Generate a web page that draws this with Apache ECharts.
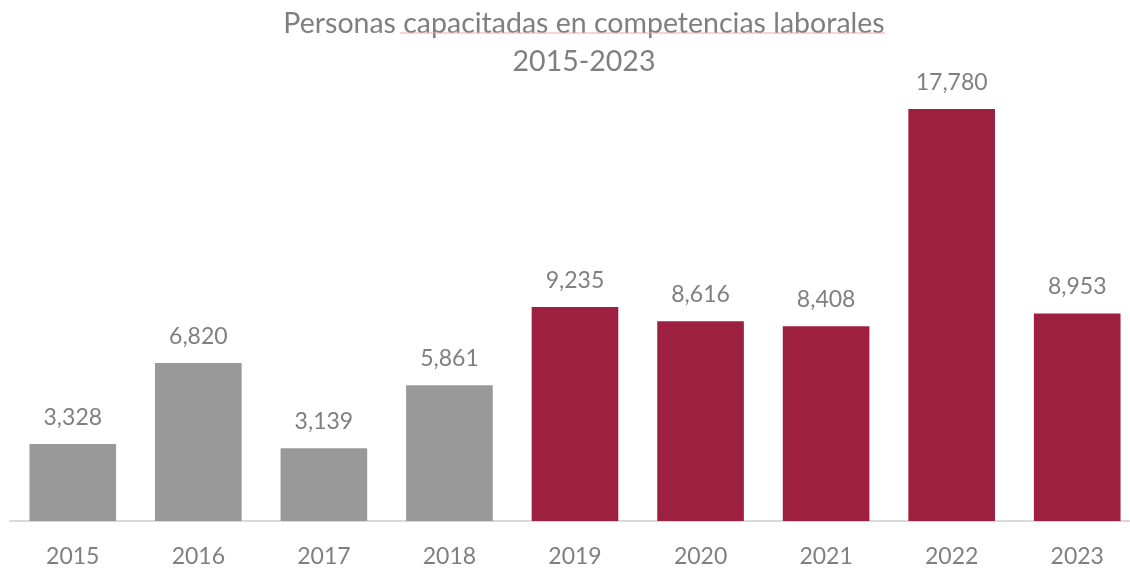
<!DOCTYPE html>
<html>
<head>
<meta charset="utf-8">
<script src="https://cdn.jsdelivr.net/npm/echarts@6/dist/echarts.min.js"></script>
<style>
  html, body { margin: 0; padding: 0; background: #fff; }
  #chart { width: 1130px; height: 569px; }
</style>
</head>
<body>
<div id="chart"></div>
<script>
// datos del grafico
var years = ['2015', '2016', '2017', '2018', '2019', '2020', '2021', '2022', '2023'];
var personas = [3328, 6820, 3139, 5861, 9235, 8616, 8408, 17780, 8953];
var barColors = ['#999999', '#999999', '#999999', '#999999', '#9e2040', '#9e2040', '#9e2040', '#9e2040', '#9e2040'];
var titleLines = ['Personas capacitadas en competencias laborales', '2015-2023'];

var fontName = 'Lato';
var textGray = '#7f7f7f';

var myChart = echarts.init(document.getElementById('chart'));

var option = {
    animation: false,
    backgroundColor: '#ffffff',
    // titulo como texto grafico (centrado un poco a la derecha, como el original)
    graphic: [{
        type: 'text',
        x: 584,
        y: 24,
        style: {
            text: titleLines[0],
            fill: textGray,
            font: '28.5px ' + fontName,
            align: 'center',
            verticalAlign: 'middle'
        }
    }, {
        type: 'text',
        x: 584,
        y: 62,
        style: {
            text: titleLines[1],
            fill: textGray,
            font: '28.5px ' + fontName,
            align: 'center',
            verticalAlign: 'middle'
        }
    }, {
        // subrayado rojo del corrector ortografico
        type: 'line',
        shape: { x1: 400, y1: 33, x2: 885, y2: 33 },
        style: { stroke: '#f3a6a6', lineWidth: 1 }
    }],
    grid: {
        left: 10,
        width: 1130,
        top: 57.6,
        bottom: 48,
        outerBoundsMode: 'none',
        containLabel: false
    },
    xAxis: {
        type: 'category',
        data: years,
        axisLine: { lineStyle: { color: '#d9d9d9', width: 2 } },
        axisTick: { show: false },
        axisLabel: {
            color: textGray,
            fontFamily: fontName,
            fontSize: 23,
            margin: 24
        }
    },
    yAxis: {
        type: 'value',
        min: 0,
        max: 20000,
        show: false,
        splitLine: { show: false }
    },
    series: [{
        type: 'bar',
        barWidth: '69%',
        data: personas.map(function (v, i) {
            return { value: v, itemStyle: { color: barColors[i] } };
        }),
        label: {
            show: true,
            position: 'top',
            distance: 15,
            color: textGray,
            fontFamily: fontName,
            fontSize: 23,
            formatter: function (p) {
                return p.value.toLocaleString('en-US');
            }
        }
    }]
};

myChart.setOption(option);
</script>
</body>
</html>
